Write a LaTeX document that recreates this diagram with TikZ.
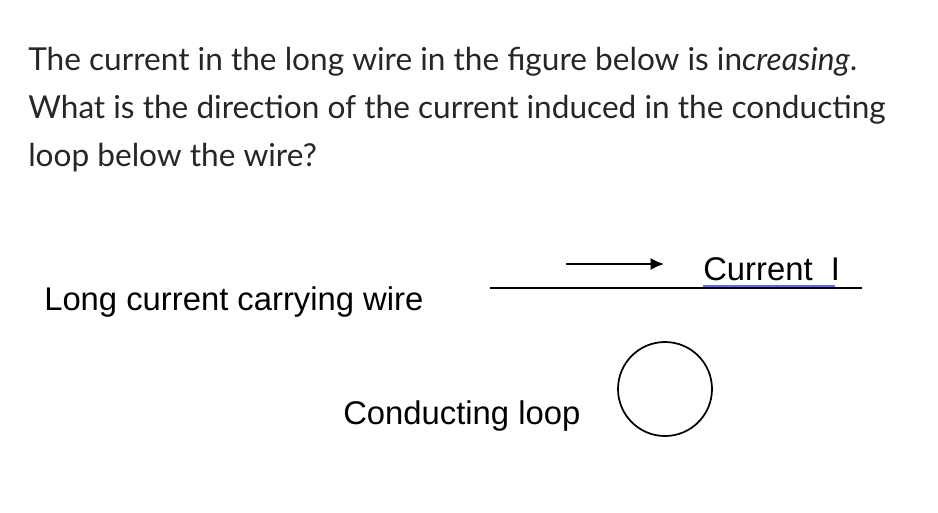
\documentclass[tikz,border=0pt]{standalone}
\usepackage{fontspec}
\usetikzlibrary{arrows.meta}
\setmainfont{Lato}
\newfontfamily\arial{Liberation Sans}
\begin{document}
\begin{tikzpicture}[x=0.75pt,y=-0.75pt,
  qtext/.style={anchor=base west,inner sep=0,font=\fontsize{23.7pt}{28pt}\selectfont,text=black!85},
  lbl/.style={anchor=base west,inner sep=0,font=\arial\fontsize{24.6pt}{29pt}\selectfont}]
\useasboundingbox (0,0) rectangle (938,512);
\node[qtext] (q1) at (28,70) {The current in the long wire in the figure below is in\textit{creasing}.};
\node[qtext] (q2) at (28,118) {What is the direction of the current induced in the conducting};
\node[qtext] (q3) at (28,166) {loop below the wire?};
\node[lbl] (wl) at (44,310) {Long current carrying wire};
\node[lbl] (cl) at (343,424) {Conducting loop};
\node[lbl] (ci) at (703,280) {Current\ \ I};
\coordinate (w1) at (490,288); \coordinate (w2) at (862,288);
\draw[line width=1.5pt] (w1) -- (w2);
\draw[blue!60,line width=1pt] (ci.base west)++(0,6) -- ++(132,0);
\coordinate (a1) at (566,264); \coordinate (a2) at (664,264);
\draw[line width=1.3pt,-{Latex[length=10pt,width=9pt]}] (a1) -- (a2);
\node[draw,circle,line width=1.3pt,minimum size=94*0.75pt,inner sep=0] (loop) at (665,389) {};
\end{tikzpicture}
\end{document}
